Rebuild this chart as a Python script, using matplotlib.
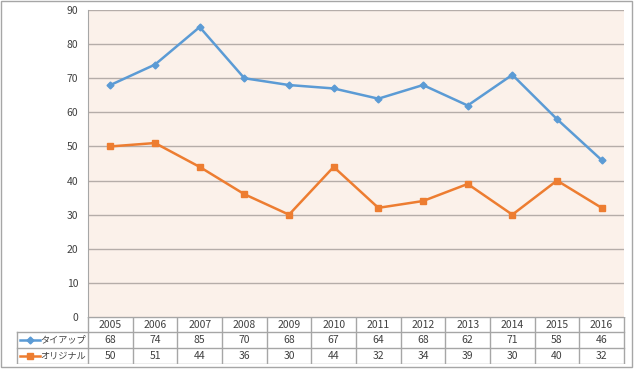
import matplotlib.pyplot as plt
from matplotlib.patches import Rectangle
import numpy as np

years = ['2005', '2006', '2007', '2008', '2009', '2010', '2011', '2012', '2013', '2014', '2015', '2016']
tieup = [68, 74, 85, 70, 68, 67, 64, 68, 62, 71, 58, 46]
original = [50, 51, 44, 36, 30, 44, 32, 34, 39, 30, 40, 32]
series_names = ['タイアップ', 'オリジナル']

c_blue = '#5B9BD5'
c_orange = '#ED7D31'
grid_c = '#B5ADA9'
font_size = 7.5

plt.rcParams['font.family'] = ['Noto Sans CJK JP', 'DejaVu Sans']
plt.rcParams['font.size'] = font_size

W, H = 635, 369
fig = plt.figure(figsize=(W/100, H/100), dpi=100)

def fx(px): return px/W
def fy(py): return 1-py/H

# outer border
fig.patches.append(Rectangle((fx(0.5), fy(366.5)), fx(632)-fx(0.5), fy(0.5)-fy(366.5),
                             transform=fig.transFigure, fill=False, ec='#A6A6A6', lw=1))

L, R, T, B = 88, 624, 10, 317
ax = fig.add_axes([fx(L), fy(B), fx(R)-fx(L), fy(T)-fy(B)])
ax.set_facecolor('#FBF1EA')
x = np.arange(len(years))
ax.plot(x, tieup, '-D', color=c_blue, lw=1.8, ms=3.5, label=series_names[0])
ax.plot(x, original, '-s', color=c_orange, lw=1.8, ms=5, label=series_names[1])
ax.set_xlim(-0.5, len(years)-0.5)
ax.set_ylim(0, 90)
ax.set_yticks(range(0, 91, 10))
ax.set_xticks([])
ax.yaxis.grid(True, color=grid_c, lw=1)
ax.set_axisbelow(True)
for s in ['top', 'right', 'bottom']:
    ax.spines[s].set_visible(False)
ax.spines['left'].set_color('#A6A6A6')
ax.tick_params(axis='y', length=0, pad=7, labelcolor='#404040')

# data table below the plot
tb_top, tb_bot = 317, 364
tax = fig.add_axes([fx(0), fy(tb_bot), 1, fy(tb_top)-fy(tb_bot)])
tax.set_xlim(0, W)
tax.set_ylim(tb_bot, tb_top)
tax.axis('off')
rows = [tb_top, 332, 348, tb_bot]
colw = (R-L)/len(years)
edges = [L + k*colw for k in range(len(years)+1)]
lc = '#A6A6A6'
tax.plot([L, R], [rows[0], rows[0]], color=lc, lw=1)
for r in rows[1:]:
    tax.plot([17, R], [r, r], color=lc, lw=1)
for e in edges:
    tax.plot([e, e], [rows[0], rows[-1]], color=lc, lw=1)
tax.plot([17, 17], [rows[1], rows[-1]], color=lc, lw=1)

for i, yr in enumerate(years):
    cx = L + (i+0.5)*colw
    tax.text(cx, (rows[0]+rows[1])/2, yr, ha='center', va='center', color='#404040')
    tax.text(cx, (rows[1]+rows[2])/2, str(tieup[i]), ha='center', va='center', color='#404040')
    tax.text(cx, (rows[2]+rows[3])/2, str(original[i]), ha='center', va='center', color='#404040')

for j, (name, col, mk, ms) in enumerate([(series_names[0], c_blue, 'D', 3.5),
                                         (series_names[1], c_orange, 's', 5)]):
    yc = (rows[j+1]+rows[j+2])/2
    tax.plot([20, 40], [yc, yc], color=col, lw=1.8)
    tax.plot([30], [yc], marker=mk, color=col, ms=ms)
    tax.text(40, yc, name, ha='left', va='center', color='#404040', fontsize=6.6)

plt.savefig('out.png', dpi=100)
